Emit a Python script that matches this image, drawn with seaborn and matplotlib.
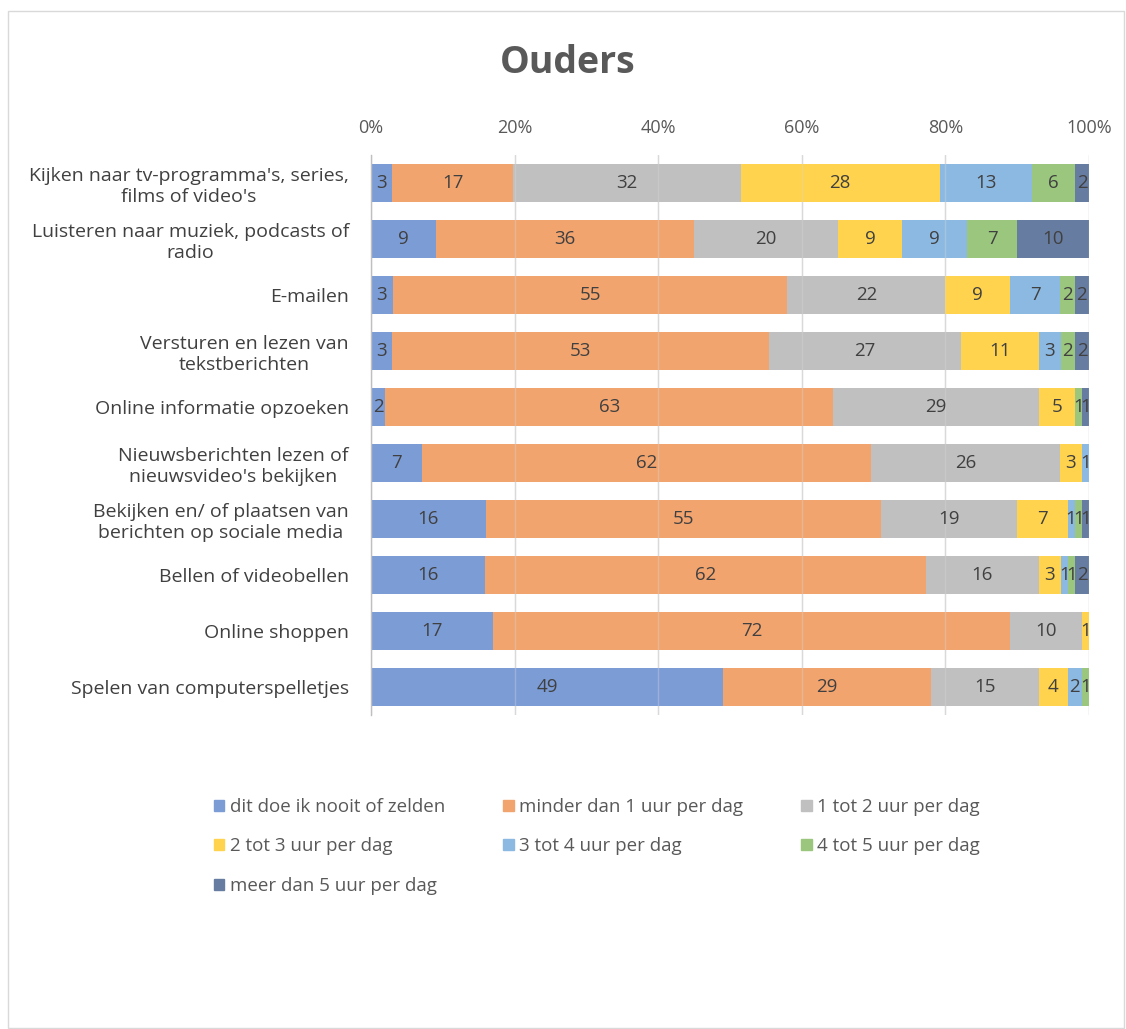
import numpy as np
import pandas as pd
import matplotlib
matplotlib.use("Agg")
import matplotlib.pyplot as plt
import matplotlib.patches as mpatches
import seaborn as sns

categories = [
    "Kijken naar tv-programma's, series,\nfilms of video's",
    "Luisteren naar muziek, podcasts of\nradio",
    "E-mailen",
    "Versturen en lezen van\ntekstberichten",
    "Online informatie opzoeken",
    "Nieuwsberichten lezen of\nnieuwsvideo's bekijken",
    "Bekijken en/ of plaatsen van\nberichten op sociale media",
    "Bellen of videobellen",
    "Online shoppen",
    "Spelen van computerspelletjes",
]
series_names = [
    "dit doe ik nooit of zelden",
    "minder dan 1 uur per dag",
    "1 tot 2 uur per dag",
    "2 tot 3 uur per dag",
    "3 tot 4 uur per dag",
    "4 tot 5 uur per dag",
    "meer dan 5 uur per dag",
]
nooit = [3, 9, 3, 3, 2, 7, 16, 16, 17, 49]
minder1 = [17, 36, 55, 53, 63, 62, 55, 62, 72, 29]
u1_2 = [32, 20, 22, 27, 29, 26, 19, 16, 10, 15]
u2_3 = [28, 9, 9, 11, 5, 3, 7, 3, 1, 4]
u3_4 = [13, 9, 7, 3, 0, 1, 1, 1, 0, 2]
u4_5 = [6, 7, 2, 2, 1, 0, 1, 1, 0, 1]
meer5 = [2, 10, 2, 2, 1, 0, 1, 2, 0, 0]
xtick_labels = ["0%", "20%", "40%", "60%", "80%", "100%"]

colors = ["#7C9CD6", "#F2A46F", "#C0C0C0", "#FFD34D", "#8CB9E2", "#9BC67E", "#677CA1"]

values = np.array([nooit, minder1, u1_2, u2_3, u3_4, u4_5, meer5], dtype=float)
totals = values.sum(axis=0)
pct = values / totals * 100
cum = np.cumsum(pct, axis=0)

rows = []
for si, name in enumerate(series_names):
    for ci, cat in enumerate(categories):
        rows.append(dict(activity=cat, idx=ci, series=name, value=values[si, ci],
                         pct=pct[si, ci], end=cum[si, ci], start=cum[si, ci] - pct[si, ci]))
df = pd.DataFrame(rows)

sns.set_theme(style="white")
plt.rcParams['font.family'] = ['Open Sans', 'DejaVu Sans']

fig = plt.figure(figsize=(11.26, 10.29), dpi=100)
ax = fig.add_axes([0.3295, 0.3051, 0.6377, 0.5443])

for x in range(0, 101, 20):
    ax.axvline(x, color="#D9D9D9", lw=1, zorder=0)

for si in range(len(series_names) - 1, -1, -1):
    sub = df[df.series == series_names[si]]
    sns.barplot(data=sub, x="end", y="activity", order=categories, color=colors[si],
                orient="h", width=0.68, linewidth=0, saturation=1, ax=ax, zorder=2,
                errorbar=None)

for x in range(20, 101, 20):
    ax.axvline(x, color="#D9D9D9", lw=1, alpha=0.35, zorder=3)

for r in df.itertuples():
    if r.value >= 1:
        ax.text((r.start + r.end) / 2, r.idx, f"{int(r.value)}", ha="center", va="center",
                fontsize=13.5, color="#404040", zorder=4)

ax.set_xlim(0, 100)
ax.set_ylim(len(categories) - 0.5, -0.5)
ax.xaxis.tick_top()
ax.set_xticks(range(0, 101, 20))
ax.set_xticklabels(xtick_labels, fontsize=13, color="#595959")
ax.tick_params(axis="x", length=0, pad=13)
ax.tick_params(axis="y", length=0, pad=16)
ax.set_yticks(range(len(categories)))
ax.set_yticklabels(categories, fontsize=14, color="#404040", multialignment="center",
                   linespacing=1.2)
ax.set_xlabel("")
ax.set_ylabel("")
for s in ["top", "right", "bottom"]:
    ax.spines[s].set_visible(False)
ax.spines["left"].set_color("#BFBFBF")
ax.spines["left"].set_linewidth(1)
ax.spines["left"].set_zorder(5)

fig.text(0.504, 0.939, "Ouders", ha="center", va="center", fontsize=27,
         fontweight="bold", color="#595959")

handles = [mpatches.Patch(color=c, label=n) for c, n in zip(colors, series_names)]
order = [0, 3, 6, 1, 4, 2, 5]
leg = fig.legend(handles=[handles[i] for i in order], loc="upper left",
                 bbox_to_anchor=(0.175, 0.241),
                 ncol=3, frameon=False, fontsize=13.5, handlelength=0.55, handleheight=0.55,
                 handletextpad=0.3, columnspacing=3.1, labelspacing=1.15, labelcolor="#595959")

fig.patches.append(mpatches.Rectangle((0.0075, 0.0005), 0.991, 0.989, transform=fig.transFigure,
                                      fill=False, edgecolor="#D9D9D9", lw=1))

fig.savefig("out.png", dpi=100, facecolor="white")
